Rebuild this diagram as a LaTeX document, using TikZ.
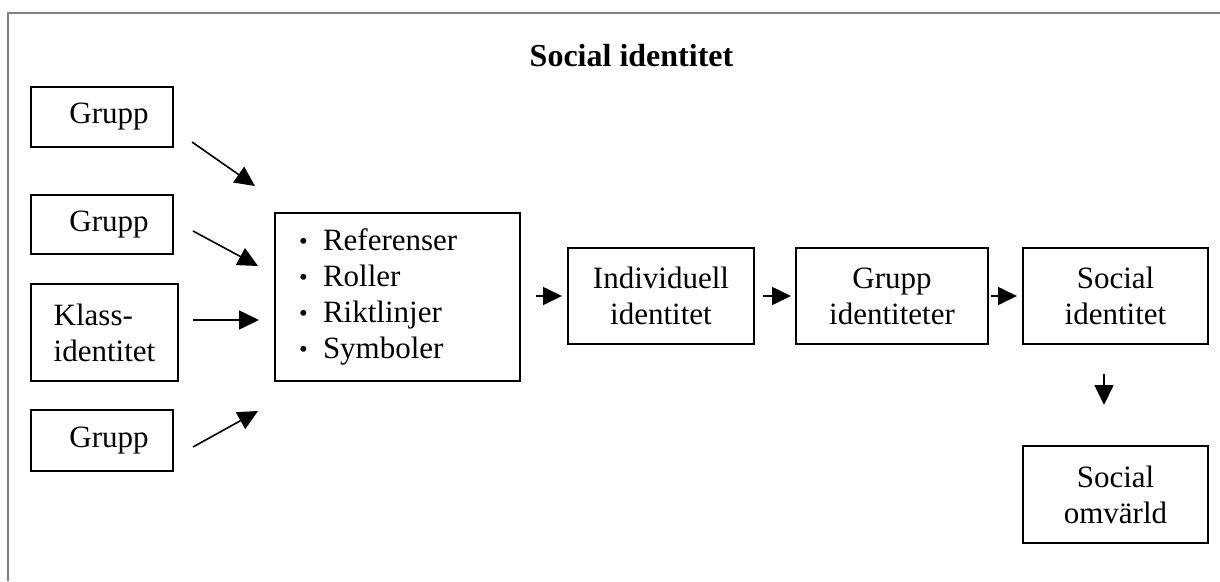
\documentclass[tikz,border=0pt]{standalone}
\usepackage{fontspec}
\setmainfont{Liberation Serif}
\usepackage{graphicx}
\usetikzlibrary{arrows.meta}
\begin{document}
\begin{tikzpicture}[x=1pt,y=-1pt,
  every node/.style={font=\fontsize{31}{36}\selectfont},
  box/.style={draw=black, line width=2pt, inner sep=0pt},
  arr/.style={line width=1.6pt, -{Triangle[length=20pt,width=19pt]}},
  sarr/.style={line width=1.6pt, -{Triangle[length=19pt,width=18pt]}},
  framestyle/.style={draw=gray, line width=2pt}
]
\useasboundingbox (0,0) rectangle (1220,581);
\draw[framestyle] (8,581) -- (8,13) -- (1220,13);

\node[anchor=base, font=\bfseries\fontsize{32}{38}\selectfont] (title) at (631.5,66) {Social identitet};

\node[box, minimum width=142pt, minimum height=60pt] (g1) at (102,117) {\hspace*{14pt}Grupp};
\node[box, minimum width=142pt, minimum height=59pt] (g2) at (102,224.5) {\hspace*{14pt}Grupp};
\node[box, minimum width=147pt, minimum height=97pt, align=left] (klass) at (104.5,332.5) {Klass-\\identitet};
\node[box, minimum width=142pt, minimum height=61pt] (g4) at (102,440.5) {\hspace*{14pt}Grupp};

\newcommand{\blt}{\makebox[24pt][l]{\raisebox{1.5pt}{\scalebox{0.8}{\textbullet}}}}
\node[box, minimum width=245pt, minimum height=168pt, text width=197pt, inner xsep=24pt, align=left] (mid) at (397.5,297)
  {\blt Referenser\\\blt Roller\\\blt Riktlinjer\\\blt Symboler};

\node[box, minimum width=186pt, minimum height=96pt, align=center] (ind) at (661,296) {Individuell\\identitet};
\node[box, minimum width=192pt, minimum height=96pt, align=center] (gid) at (892,296) {Grupp\\identiteter};
\node[box, minimum width=185pt, minimum height=96pt, align=center] (sid) at (1115.5,296) {Social\\identitet};
\node[box, minimum width=185pt, minimum height=97pt, align=center] (som) at (1115.5,494.5) {Social\\omvärld};

\coordinate (a1s) at (192,142); \coordinate (a1e) at (255,186);
\coordinate (a2s) at (193,231); \coordinate (a2e) at (258,266);
\coordinate (a3s) at (193,320); \coordinate (a3e) at (259,320);
\coordinate (a4s) at (193,447); \coordinate (a4e) at (258,411);
\coordinate (ds) at (1104,374); \coordinate (de) at (1104,405);

\draw[arr] (a1s) -- (a1e);
\draw[arr] (a2s) -- (a2e);
\draw[arr] (a3s) -- (a3e);
\draw[arr] (a4s) -- (a4e);

\draw[sarr, shorten <=15pt, shorten >=5pt] (mid.east |- ind.west) -- (ind.west);
\draw[sarr, shorten <=8pt, shorten >=4pt] (ind.east) -- (gid.west);
\draw[sarr, shorten <=2pt, shorten >=5pt] (gid.east) -- (sid.west);
\draw[arr] (ds) -- (de);
\end{tikzpicture}
\end{document}
